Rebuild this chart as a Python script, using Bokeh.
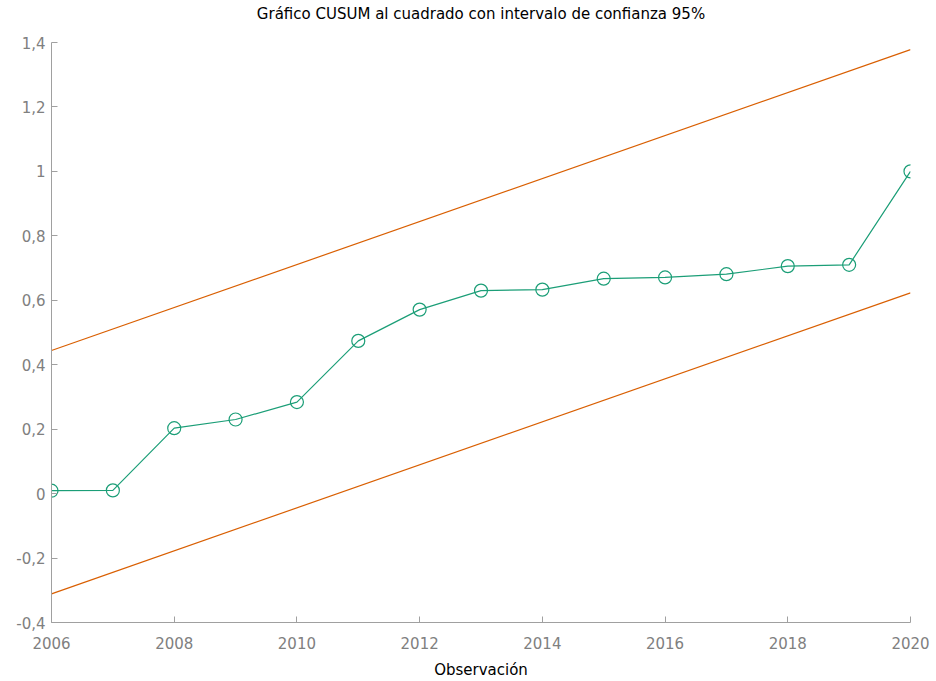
from bokeh.plotting import figure
from bokeh.models import FixedTicker, CustomJSTickFormatter, Range1d, Title
from bokeh.embed import file_html
from bokeh.resources import INLINE

years = [2006, 2007, 2008, 2009, 2010, 2011, 2012, 2013, 2014, 2015, 2016, 2017, 2018, 2019, 2020]
cusumsq = [0.009, 0.010, 0.203, 0.230, 0.284, 0.474, 0.571, 0.630, 0.633, 0.667, 0.671, 0.681, 0.706, 0.710, 1.000]
bound_years = [2006, 2020]
upper = [0.444, 1.378]
lower = [-0.311, 0.623]

x_ticks = [2006, 2008, 2010, 2012, 2014, 2016, 2018, 2020]
y_ticks = [-0.4, -0.2, 0.0, 0.2, 0.4, 0.6, 0.8, 1.0, 1.2, 1.4]

title_text = "Gráfico CUSUM al cuadrado con intervalo de confianza 95%"
x_label_text = "Observación"

FONT = "DejaVu Sans"
GREEN = "#1b9e77"
ORANGE = "#d95f02"
AXIS = "#a0a0a0"
LABEL = "#808080"

p = figure(width=936, height=681, output_backend="svg", toolbar_location=None,
           x_range=Range1d(2006, 2020), y_range=Range1d(-0.4, 1.4),
           min_border_left=51, min_border_right=26, min_border_top=42, min_border_bottom=59)

p.outline_line_color = None
p.xgrid.grid_line_color = None
p.ygrid.grid_line_color = None
p.background_fill_color = "white"
p.border_fill_color = "white"

p.line(bound_years, upper, line_color=ORANGE, line_width=1.2)
p.line(bound_years, lower, line_color=ORANGE, line_width=1.2)
p.line(years, cusumsq, line_color=GREEN, line_width=1.2)
p.scatter(years, cusumsq, marker="circle", size=13, fill_color=None,
          line_color=GREEN, line_width=1.2)

fmt = CustomJSTickFormatter(code="""
var v = Math.round(tick * 10) / 10;
if (Math.abs(v) < 1e-9) v = 0;
return v.toString().replace('.', ',');
""")

for ax in (p.xaxis[0], p.yaxis[0]):
    ax.axis_line_color = AXIS
    ax.major_tick_line_color = AXIS
    ax.major_tick_in = 6
    ax.major_tick_out = 0
    ax.minor_tick_line_color = None
    ax.major_label_text_font = FONT
    ax.major_label_text_font_size = "15px"
    ax.major_label_text_color = LABEL
    ax.axis_label_text_font = FONT
    ax.axis_label_text_font_size = "15px"
    ax.axis_label_text_font_style = "normal"
    ax.axis_label_text_color = "#000000"

p.xaxis[0].ticker = FixedTicker(ticks=x_ticks)
p.yaxis[0].ticker = FixedTicker(ticks=y_ticks)
p.yaxis[0].formatter = fmt
p.xaxis[0].axis_label = x_label_text
p.xaxis[0].major_label_standoff = 14
p.xaxis[0].axis_label_standoff = 9
p.yaxis[0].major_label_standoff = 6

spacer = Title(text=" ", text_font=FONT, text_font_size="15px", standoff=0)
title = Title(text=title_text, align="center", text_font=FONT, text_font_size="15px",
              text_font_style="normal", text_color="#000000", standoff=0)
p.add_layout(spacer, "above")
p.add_layout(title, "above")

open("out.html", "w").write(file_html(p, INLINE))
